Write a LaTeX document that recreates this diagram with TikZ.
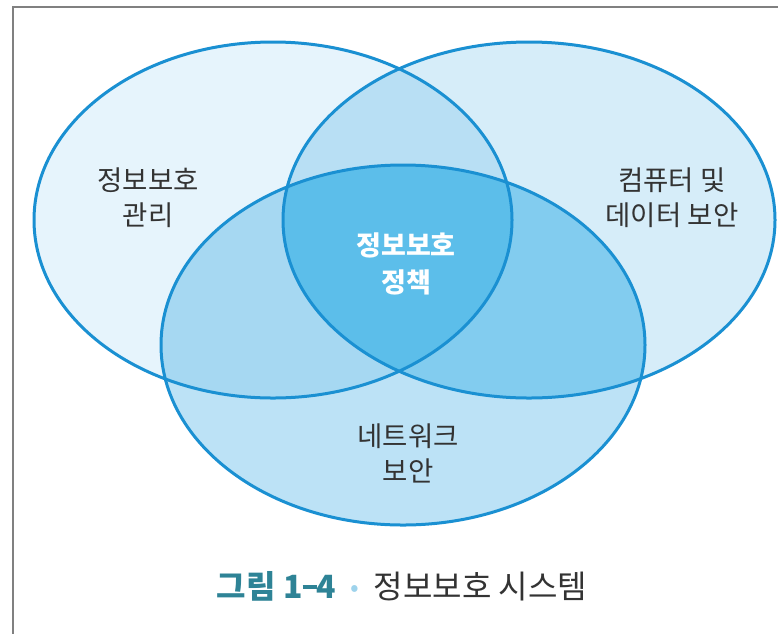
\documentclass[tikz,border=0pt]{standalone}
\usepackage{fontspec}
\setmainfont{Noto Sans CJK KR}
\begin{document}
\begin{tikzpicture}[x=1pt,y=-1pt]
\definecolor{edgeblue}{HTML}{1A90D2}
\definecolor{cL}{HTML}{E6F4FC}
\definecolor{cR}{HTML}{D6EDF9}
\definecolor{cB}{HTML}{BCE2F6}
\definecolor{cLR}{HTML}{B8DFF4}
\definecolor{cLB}{HTML}{A6D8F2}
\definecolor{cRB}{HTML}{82CCEF}
\definecolor{cC}{HTML}{5CBEEA}
\definecolor{txt}{HTML}{333333}
\definecolor{teal}{HTML}{2E8396}
\definecolor{dotc}{HTML}{9ED3EC}
\definecolor{framec}{HTML}{808080}
\tikzset{
  ring/.style={draw=edgeblue, line width=3pt},
  lbl/.style={text=txt, font=\fontsize{27.5}{35}\selectfont, align=center, inner sep=0pt},
  clbl/.style={text=white, font=\bfseries\fontsize{27}{37}\selectfont, align=center, inner sep=0pt},
}
\useasboundingbox (0,0) rectangle (778,633);
\fill[white] (0,0) rectangle (778,633);
\draw[framec, line width=1.6pt] (13,640) -- (13,7) -- (790,7);
% ellipse fills
\def\ellL{(273,220) ellipse [x radius=239, y radius=178]}
\def\ellR{(529,220) ellipse [x radius=246, y radius=178]}
\def\ellB{(403,345) ellipse [x radius=242, y radius=180]}
\fill[cL] \ellL;
\fill[cR] \ellR;
\fill[cB] \ellB;
\begin{scope}\clip \ellL; \fill[cLR] \ellR; \end{scope}
\begin{scope}\clip \ellL; \fill[cLB] \ellB; \end{scope}
\begin{scope}\clip \ellR; \fill[cRB] \ellB; \end{scope}
\begin{scope}\clip \ellL; \clip \ellR; \fill[cC] \ellB; \end{scope}
\draw[ring] \ellL;
\draw[ring] \ellR;
\draw[ring] \ellB;
% labels
\node[lbl] (mgmt) at (148,198) {정보보호\\관리};
\node[lbl] (comp) at (672,198) {컴퓨터 및\\데이터 보안};
\node[clbl] (policy) at (406,264) {정보보호\\정책};
\node[lbl] (net) at (408,453) {네트워크\\보안};
\node[inner sep=0pt, font=\fontsize{32}{38}\selectfont] (title) at (402,586)
  {\textcolor{teal}{\bfseries 그림 1\raisebox{0.3em}{\rule{0.45em}{0.11em}}4}\hspace{0.45em}\textcolor{dotc}{\raisebox{0.05em}{\scalebox{0.8}{\textbullet}}}\hspace{0.45em}\textcolor{txt}{정보보호 시스템}};
\end{tikzpicture}
\end{document}
